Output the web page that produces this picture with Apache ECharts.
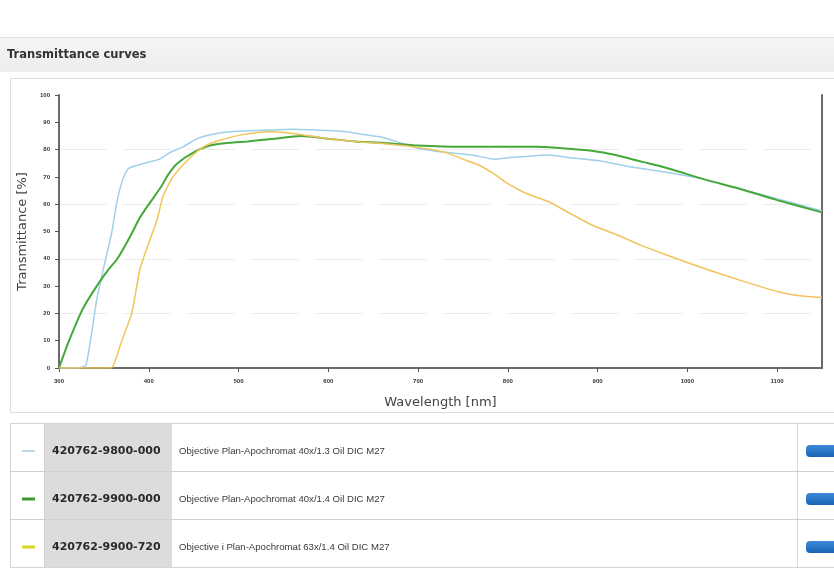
<!DOCTYPE html>
<html>
<head>
<meta charset="utf-8">
<style>
  html, body { margin: 0; padding: 0; background: #ffffff; }
  #chart { width: 834px; height: 585px; }
</style>
<script src="https://cdn.jsdelivr.net/npm/echarts@6/dist/echarts.min.js"></script>
</head>
<body>
<div id="chart"></div>
<script>
// Objective transmittance, wavelength in nm, transmittance in %
const wl98000 = [300, 320, 330, 342, 352, 359, 364, 370, 377, 390, 401, 412, 424, 438, 454, 470, 490, 520, 560, 600, 620, 640, 660, 680, 700, 730, 760, 785, 800, 820, 845, 870, 900, 940, 980, 1020, 1060, 1100, 1150];
const tr98000 = [0, 0, 1, 25, 40, 50, 60, 68, 73, 74.5, 75.5, 76.5, 79, 81, 84, 85.5, 86.5, 87, 87.5, 87, 86.5, 85.5, 84.5, 82.5, 80.5, 79, 78, 76.5, 77, 77.5, 78, 77, 76, 73.5, 71.5, 69, 65.5, 62, 57.5];

const wl99000 = [300, 310, 320, 327, 342, 355, 365, 379, 390, 398, 413, 422, 432, 450, 468, 490, 510, 540, 570, 600, 630, 660, 700, 750, 800, 830, 860, 895, 920, 950, 980, 1020, 1060, 1100, 1150];
const tr99000 = [0, 9, 17, 22, 30, 36, 40, 48, 55, 59, 66, 71, 75, 79, 81.5, 82.5, 83, 84, 85, 84, 83, 82.5, 81.5, 81, 81, 81, 80.5, 79.5, 78, 75.5, 73, 69, 65.5, 61.5, 57];

const wl99720 = [300, 330, 358, 364, 370, 381, 390, 398, 409, 416, 427, 446, 461, 480, 502, 520, 535, 558, 580, 600, 630, 660, 695, 715, 733, 750, 770, 785, 800, 820, 845, 870, 896, 920, 948, 980, 1023, 1060, 1100, 1125, 1150];
const tr99720 = [0, 0, 0, 4, 10, 20, 36, 44, 54, 63, 70, 77, 81, 83.5, 85.3, 86.2, 86.5, 86, 85, 84, 83, 82.2, 81, 80, 78.7, 76.5, 74, 71, 67.5, 64, 61, 56.5, 52, 49, 45, 41, 36, 32, 28, 26.5, 25.8];

const partNumbers = ['420762-9800-000', '420762-9900-000', '420762-9900-720'];
const descriptions = [
  'Objective Plan-Apochromat 40x/1.3 Oil DIC M27',
  'Objective Plan-Apochromat 40x/1.4 Oil DIC M27',
  'Objective i Plan-Apochromat 63x/1.4 Oil DIC M27'
];
const xTicks = { min: 300, max: 1150, step: 100 };
const yTicks = { min: 0, max: 100, step: 10 };

const lineColors = ['#9fd0ea', '#46a83a', '#f2c35a'];
const swatchColors = ['#a8cce0', '#3c9a2c', '#d9d62a'];
const swatchWidths = [1.5, 3, 3];

function pairs(xs, ys) { return xs.map((x, i) => [x, ys[i]]); }

const FONT = '"Liberation Sans", Arial, sans-serif';
const WIDE = '"DejaVu Sans", Verdana, sans-serif';
const chart = echarts.init(document.getElementById('chart'), null, { renderer: 'canvas' });

// Legend table rows
const rowTops = [423, 471, 519];
const rowH = 48;
const tableGraphics = [];
tableGraphics.push({ type: 'rect', z: -5, shape: { x: 10.5, y: 423.5, width: 830, height: 144 },
  style: { fill: '#ffffff', stroke: '#d4d4d4', lineWidth: 1 } });
tableGraphics.push({ type: 'rect', z: -4, shape: { x: 44, y: 424, width: 128, height: 143 },
  style: { fill: '#dcdcdc' } });
tableGraphics.push({ type: 'line', z: -3, shape: { x1: 44.5, y1: 424, x2: 44.5, y2: 567 },
  style: { stroke: '#d0d0d0', lineWidth: 1 } });
tableGraphics.push({ type: 'line', z: -3, shape: { x1: 797.5, y1: 424, x2: 797.5, y2: 567 },
  style: { stroke: '#d8d8d8', lineWidth: 1 } });
rowTops.forEach((top, i) => {
  const cy = top + rowH / 2 + 4;
  if (i > 0) {
    tableGraphics.push({ type: 'line', z: -3, shape: { x1: 10, y1: top + 0.5, x2: 834, y2: top + 0.5 },
      style: { stroke: '#d0d0d0', lineWidth: 1 } });
  }
  tableGraphics.push({ type: 'line', shape: { x1: 22, y1: cy, x2: 35, y2: cy },
    style: { stroke: swatchColors[i], lineWidth: swatchWidths[i] } });
  tableGraphics.push({ type: 'text', x: 52, y: cy, style: { text: partNumbers[i], font: 'bold 11px ' + WIDE,
    fill: '#2a2a2a', verticalAlign: 'middle' } });
  tableGraphics.push({ type: 'text', x: 179, y: cy, style: { text: descriptions[i], font: '9.6px ' + FONT,
    fill: '#3a3a3a', verticalAlign: 'middle' } });
  tableGraphics.push({ type: 'rect', shape: { x: 806, y: cy - 6, width: 36, height: 12, r: 4 },
    style: { fill: new echarts.graphic.LinearGradient(0, 0, 0, 1, [
      { offset: 0, color: '#3d8ad8' }, { offset: 1, color: '#1a62b4' }]) } });
});

const option = {
  animation: false,
  backgroundColor: '#ffffff',
  textStyle: { fontFamily: FONT },
  graphic: [
    // section header band
    { type: 'rect', z: -10, shape: { x: 0, y: 37, width: 834, height: 35 },
      style: { fill: new echarts.graphic.LinearGradient(0, 0, 0, 1, [
        { offset: 0, color: '#f6f6f6' }, { offset: 1, color: '#ececec' }]) } },
    { type: 'line', z: -9, shape: { x1: 0, y1: 37.5, x2: 834, y2: 37.5 },
      style: { stroke: '#e2e2e2', lineWidth: 1 } },
    { type: 'text', x: 7, y: 55, style: { text: 'Transmittance curves', font: 'bold 11.5px ' + WIDE,
      fill: '#333333', verticalAlign: 'middle' } },
    // chart frame
    { type: 'rect', z: -10, shape: { x: 10.5, y: 78.5, width: 830, height: 334 },
      style: { fill: '#ffffff', stroke: '#dcdcdc', lineWidth: 1 } }
  ].concat(tableGraphics),
  grid: { left: 59, right: 12, top: 95, bottom: 217, containLabel: false },
  xAxis: {
    type: 'value', min: xTicks.min, max: xTicks.max, interval: xTicks.step,
    name: 'Wavelength [nm]', nameLocation: 'middle', nameGap: 28,
    nameTextStyle: { fontSize: 13, color: '#444444', fontFamily: WIDE },
    axisLine: { show: true, lineStyle: { color: '#6a6a6a', width: 2 } },
    axisTick: { show: true, length: 4, lineStyle: { color: '#555555', width: 1 } },
    axisLabel: { fontSize: 6, fontWeight: 'bold', color: '#333333', margin: 10, showMaxLabel: false,
      formatter: (v) => String(v) },
    splitLine: { show: false }
  },
  yAxis: [
    {
      type: 'value', min: yTicks.min, max: yTicks.max, interval: yTicks.step,
      name: 'Transmittance [%]', nameLocation: 'middle', nameGap: 27,
      nameTextStyle: { fontSize: 13, color: '#444444', fontFamily: WIDE },
      axisLine: { show: true, lineStyle: { color: '#6a6a6a', width: 2 } },
      axisTick: { show: true, length: 4, lineStyle: { color: '#555555', width: 1 } },
      axisLabel: { fontSize: 6, fontWeight: 'bold', color: '#333333', margin: 9 },
      splitLine: { show: false }
    },
    {
      type: 'value', position: 'right', min: 0, max: 100, interval: 20,
      axisLine: { show: true, lineStyle: { color: '#6a6a6a', width: 2 } },
      axisTick: { show: false }, axisLabel: { show: false },
      splitLine: { show: true, showMinLine: false, showMaxLine: false,
        lineStyle: { color: '#ebebeb', type: [48, 16], width: 1 } }
    }
  ],
  series: [
    { name: partNumbers[0], type: 'line', data: pairs(wl98000, tr98000), showSymbol: false, smooth: 0.2,
      lineStyle: { color: lineColors[0], width: 1.5 }, itemStyle: { color: lineColors[0] }, z: 3 },
    { name: partNumbers[1], type: 'line', data: pairs(wl99000, tr99000), showSymbol: false, smooth: 0.2,
      lineStyle: { color: lineColors[1], width: 2 }, itemStyle: { color: lineColors[1] }, z: 4 },
    { name: partNumbers[2], type: 'line', data: pairs(wl99720, tr99720), showSymbol: false, smooth: 0.2,
      lineStyle: { color: lineColors[2], width: 1.5 }, itemStyle: { color: lineColors[2] }, z: 5 }
  ]
};
chart.setOption(option);
</script>
</body>
</html>
